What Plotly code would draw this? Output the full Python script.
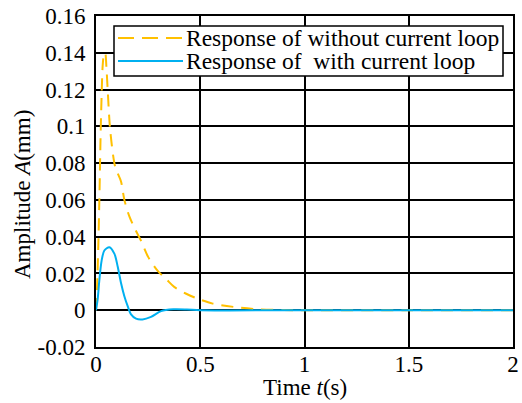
import plotly.graph_objects as go

# ---- data ----
t_without = [0, 0.005, 0.011, 0.017, 0.022, 0.027, 0.032, 0.038, 0.044, 0.05, 0.056, 0.068, 0.092,
             0.12, 0.136, 0.16, 0.19, 0.215, 0.25, 0.295, 0.34, 0.375, 0.43, 0.48, 0.56, 0.66,
             0.78, 0.9, 1.0, 1.5, 2.0]
a_without = [0, 0.012, 0.035, 0.065, 0.095, 0.117, 0.133, 0.139, 0.140, 0.132, 0.120, 0.098, 0.078,
             0.070, 0.060, 0.051, 0.0435, 0.038, 0.029, 0.0215, 0.0165, 0.0127, 0.0091, 0.0066, 0.0036, 0.0018,
             0.0005, 0.0001, 0, 0, 0]

t_with = [0, 0.008, 0.016, 0.027, 0.04, 0.064, 0.088, 0.104, 0.12, 0.136, 0.152, 0.168, 0.192,
          0.223, 0.264, 0.312, 0.371, 0.436, 0.5, 1.0, 1.5, 2.0]
a_with = [0, 0.006, 0.0163, 0.027, 0.0325, 0.0343, 0.0308, 0.0238, 0.0148, 0.0076, 0.0022, -0.0023, -0.0046,
          -0.005, -0.0036, -0.0005, 0.0005, 0.0004, 0, 0, 0, 0]

x_ticks = [0, 0.5, 1, 1.5, 2]
x_ticktext = ["0", "0.5", "1", "1.5", "2"]
y_ticks = [-0.02, 0, 0.02, 0.04, 0.06, 0.08, 0.1, 0.12, 0.14, 0.16]
y_ticktext = ["-0.02", "0", "0.02", "0.04", "0.06", "0.08", "0.1", "0.12", "0.14", "0.16"]

series_names = ["Response of without current loop", "Response of \u00a0with current loop"]
colors = ["#FFC000", "#00B0F0"]

FONT = "Liberation Serif"
FS = 23

W, H = 522, 403
L, R, T, B = 96, 513, 16, 347


def px(x):
    return (x - L) / (R - L)


def py(y):
    return (B - y) / (B - T)


fig = go.Figure()
fig.add_trace(go.Scatter(x=t_without, y=a_without, mode="lines", name=series_names[0],
                         line=dict(color=colors[0], width=2, dash="12px,8px", shape="spline", smoothing=0.8),
                         showlegend=False))
fig.add_trace(go.Scatter(x=t_with, y=a_with, mode="lines", name=series_names[1],
                         line=dict(color=colors[1], width=2, shape="spline", smoothing=0.8),
                         showlegend=False))

shapes = []
annotations = []
# manual legend box
shapes.append(dict(type="rect", xref="paper", yref="paper", x0=px(114), x1=px(503), y0=py(76), y1=py(26),
                   line=dict(color="black", width=1.5), fillcolor="white", layer="above"))
rows = [38, 61]
for i, name in enumerate(series_names):
    shapes.append(dict(type="line", xref="paper", yref="paper", x0=px(118), x1=px(183), y0=py(rows[i]), y1=py(rows[i]),
                       line=dict(color=colors[i], width=2, dash="16px,8px" if i == 0 else "solid"), layer="above"))
    annotations.append(dict(xref="paper", yref="paper", x=px(184), y=py(rows[i]), text=name, showarrow=False,
                            xanchor="left", yanchor="middle", font=dict(family=FONT, size=23.5, color="black")))

annotations.append(dict(xref="paper", yref="paper", x=px(305), y=py(387), text="Time <i>t</i>(s)", showarrow=False,
                        xanchor="center", yanchor="middle", font=dict(family=FONT, size=FS, color="black")))
annotations.append(dict(xref="paper", yref="paper", x=px(22), y=py(195), text="Amplitude <i>A</i>(mm)", showarrow=False,
                        textangle=-90, xanchor="center", yanchor="middle", font=dict(family=FONT, size=FS, color="black")))

fig.update_layout(
    width=W, height=H,
    margin=dict(l=L, r=W - R, t=T, b=H - B, autoexpand=False),
    paper_bgcolor="white", plot_bgcolor="white",
    font=dict(family=FONT, size=FS, color="black"),
    shapes=shapes, annotations=annotations,
    showlegend=False,
)
fig.update_xaxes(range=[0, 2], tickvals=x_ticks, ticktext=x_ticktext, showgrid=True, gridcolor="black", gridwidth=2,
                 zeroline=False, showline=True, linecolor="black", linewidth=2, mirror=True, automargin=False,
                 ticks="", ticklabelstandoff=-5, tickfont=dict(family=FONT, size=FS))
fig.update_yaxes(range=[-0.02, 0.16], tickvals=y_ticks, ticktext=y_ticktext, showgrid=True, gridcolor="black", gridwidth=2,
                 zeroline=False, showline=True, linecolor="black", linewidth=2, mirror=True, automargin=False,
                 ticks="outside", ticklen=4, tickcolor="rgba(0,0,0,0)", tickfont=dict(family=FONT, size=FS))

fig.write_html("out.html", config={"displayModeBar": False},
               post_script="document.body.style.margin='0';document.body.style.overflow='hidden';")
